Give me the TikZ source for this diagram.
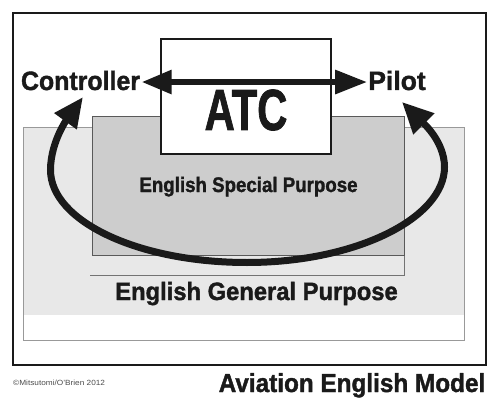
\documentclass[tikz,border=0pt]{standalone}
\usepackage{fontspec}
\setmainfont{Liberation Sans}
\newfontfamily\heavyfont[FakeBold=1.5]{Liberation Sans Bold}
\usetikzlibrary{arrows.meta}
\definecolor{lightbg}{HTML}{E8E8E8}
\definecolor{darkbg}{HTML}{CDCDCD}
\definecolor{inkc}{HTML}{1A1A1A}
\begin{document}
\begin{tikzpicture}[x=1pt,y=-1pt,
  lbl/.style={inner sep=0pt, anchor=base, text=inkc},
  bigarrow/.style={line width=6pt, draw=inkc, {Triangle[length=30pt,width=23pt]}-{Triangle[length=32pt,width=23pt]}},
  looparrow/.style={line width=7pt, draw=inkc, {Triangle[length=30pt,width=26pt]}-{Triangle[length=31pt,width=28pt]}}]
\useasboundingbox (0,0) rectangle (489,398);
% outer frame
\draw[line width=2.2pt, draw=inkc] (13,13) rectangle (486,365);
% general purpose area
\fill[lightbg] (23,128) rectangle (464,315);
\draw[line width=1pt, draw=black!40] (23,128) rectangle (464,340);
% offset outline under the special purpose box
\draw[line width=1pt, draw=black!55] (90,275) -- (404,275) -- (404,255);
% special purpose box
\draw[line width=1pt, fill=darkbg, draw=black!65] (92,117) rectangle (404,255);
% ATC box
\node[draw=inkc, line width=1.5pt, fill=white, minimum width=170pt, minimum height=115pt, inner sep=0pt] (atcbox) at (246,96.5) {};
% texts inside
\node[lbl, font=\heavyfont\fontsize{21}{24}\selectfont, xscale=0.89] (esp) at (248.5,192) {English Special Purpose};
\node[lbl, font=\heavyfont\fontsize{25}{28}\selectfont, xscale=0.95] (egp) at (256.5,300) {English General Purpose};
% loop
\coordinate (tipL) at (83,97);
\coordinate (tipR) at (402,102);
\draw[looparrow] (tipL) .. controls (70,115) and (50.5,140) .. (50.5,170)
  .. controls (50.5,221) and (138,262.5) .. (247,262.5)
  .. controls (356,262.5) and (444.5,218) .. (444.5,167)
  .. controls (444.5,140) and (420,120) .. (tipR);
% ATC text
\node[lbl, font=\heavyfont\fontsize{58}{62}\selectfont, xscale=0.72] (atc) at (246,130) {ATC};
% Controller and Pilot
\node[lbl, font=\heavyfont\fontsize{26.5}{30}\selectfont, xscale=0.94] (ctrl) at (80.5,90) {Controller};
\node[lbl, font=\heavyfont\fontsize{26.5}{30}\selectfont] (pilot) at (397,90) {Pilot};
\draw[bigarrow] ([xshift=1.5pt,yshift=-1.5pt]ctrl.east) -- ([xshift=-1pt,yshift=-1.5pt]pilot.west);
% title and credit
\node[lbl, font=\heavyfont\fontsize{26}{30}\selectfont, xscale=0.935] (title) at (352,392) {Aviation English Model};
\node[inner sep=0pt, anchor=west, text=black!70, font=\fontsize{7.5}{9}\selectfont, xscale=1.1] (credit) at (13,383) {©Mitsutomi/O'Brien 2012};
\end{tikzpicture}
\end{document}
